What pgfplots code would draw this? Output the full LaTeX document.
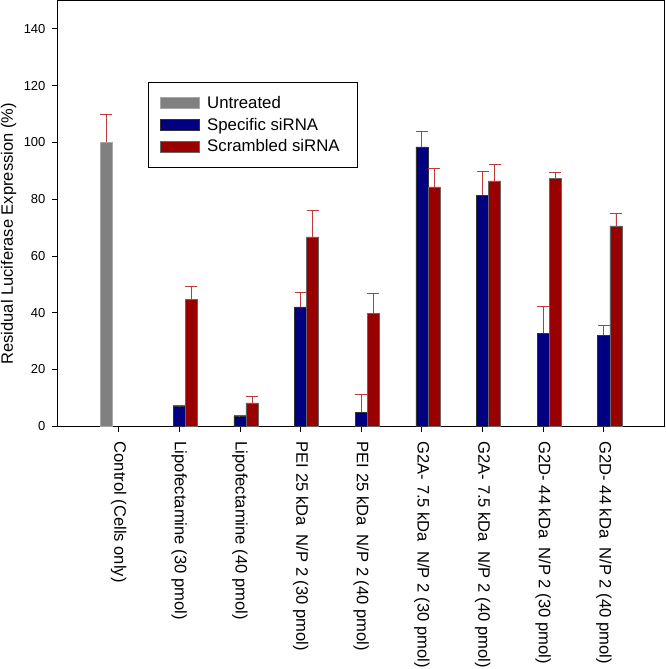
\documentclass[border=0pt]{standalone}
\usepackage{fontspec}
\setmainfont{Liberation Sans}
\usepackage{pgfplots}
\usepackage{pgfplotstable}
\pgfplotsset{compat=1.18}
\definecolor{cgray}{HTML}{808080}
\definecolor{cgrayedge}{HTML}{A8A8A8}
\definecolor{cblue}{HTML}{000080}
\definecolor{cred}{HTML}{990000}
\definecolor{cerr}{HTML}{C03838}

\pgfplotstableread{
x y e
1 100 10
}\untreated
\pgfplotstableread{
x y e
2 7.0 0.2
3 3.5 0.2
4 42.0 5.2
5 4.9 6.4
6 98.4 5.4
7 81.4 8.3
8 32.7 9.6
9 32.1 3.4
}\specific
\pgfplotstableread{
x y e
2 44.6 4.6
3 8.2 2.4
4 66.7 9.4
5 39.7 7.1
6 84.3 6.6
7 86.4 5.7
8 87.3 2.0
9 70.6 4.2
}\scrambled

\begin{document}
\begin{tikzpicture}
\begin{axis}[
  name=ax,
  scale only axis,
  width=607pt, height=426pt,
  xmin=0, xmax=10, ymin=0, ymax=150,
  ybar,
  bar width=0.2,
  ytick={0,20,...,140},
  xtick={1,...,9},
  xticklabels={Control (Cells only),Lipofectamine (30 pmol),Lipofectamine (40 pmol),PEI 25 kDa\ \ N/P 2 (30 pmol),PEI 25 kDa\ \ N/P 2 (40 pmol),G2A- 7.5 kDa\ \ N/P 2 (30 pmol),G2A- 7.5 kDa\ \ N/P 2 (40 pmol),G2D- 44 kDa\ \ N/P 2 (30 pmol),G2D- 44 kDa\ \ N/P 2 (40 pmol)},
  xticklabel style={rotate=-90, anchor=west, font=\fontsize{16.6}{18}\selectfont, xshift=6pt},
  yticklabel style={font=\fontsize{13}{15}\selectfont, xshift=-3pt},
  /pgf/number format/assume math mode=true,
  tick pos=left,
  tick align=outside,
  major tick length=6pt,
  tick style={black, line width=0.8pt},
  axis line style={line width=1pt},
  ylabel={Residual Luciferase Expression (\%)},
  every axis y label/.style={at={(rel axis cs:0,0.452)}, xshift=-49.5pt, rotate=90, anchor=center, font=\fontsize{16.5}{18}\selectfont},
  legend style={at={(axis cs:1.483,121.2)}, anchor=north west, font=\fontsize{16.8}{18}\selectfont,
    draw=none, fill=none, inner xsep=12pt, inner ysep=12pt, row sep=4pt, cells={anchor=west}},
  legend cell align=left,
  error bars/y dir=plus,
  error bars/y explicit,
  error bars/error bar style={cerr, line width=0.9pt},
  error bars/error mark options={cerr, line width=0.9pt, rotate=90, mark size=6pt},
]
\addplot[fill=cgray, draw=cgrayedge, line width=0.6pt, bar shift=-0.2,
  legend image code/.code={\draw[fill=cgray, draw=cgrayedge, line width=0.6pt] (0pt,-5.5pt) rectangle (39pt,5.5pt); \path (44.5pt,0pt);}]
  table[x=x, y=y, y error=e] {\untreated};
\addlegendentry{Untreated}
\addplot[fill=cblue, draw=black!80, line width=0.6pt, bar shift=0,
  legend image code/.code={\draw[fill=cblue, draw=black!80, line width=0.6pt] (0pt,-5.5pt) rectangle (39pt,5.5pt); \path (44.5pt,0pt);}]
  table[x=x, y=y, y error=e] {\specific};
\addlegendentry{Specific siRNA}
\addplot[fill=cred, draw=black!60, line width=0.6pt, bar shift=0.2,
  legend image code/.code={\draw[fill=cred, draw=black!60, line width=0.6pt] (0pt,-5.5pt) rectangle (39pt,5.5pt); \path (44.5pt,0pt);}]
  table[x=x, y=y, y error=e] {\scrambled};
\addlegendentry{Scrambled siRNA}
\draw[black, line width=0.8pt] (axis cs:1.483,121.2) rectangle (axis cs:4.942,91.3);
\end{axis}
\pgfresetboundingbox
\path[use as bounding box] ([xshift=-58pt,yshift=-243pt]ax.south west) rectangle ([xshift=1pt,yshift=0.5pt]ax.north east);
\end{tikzpicture}
\end{document}
